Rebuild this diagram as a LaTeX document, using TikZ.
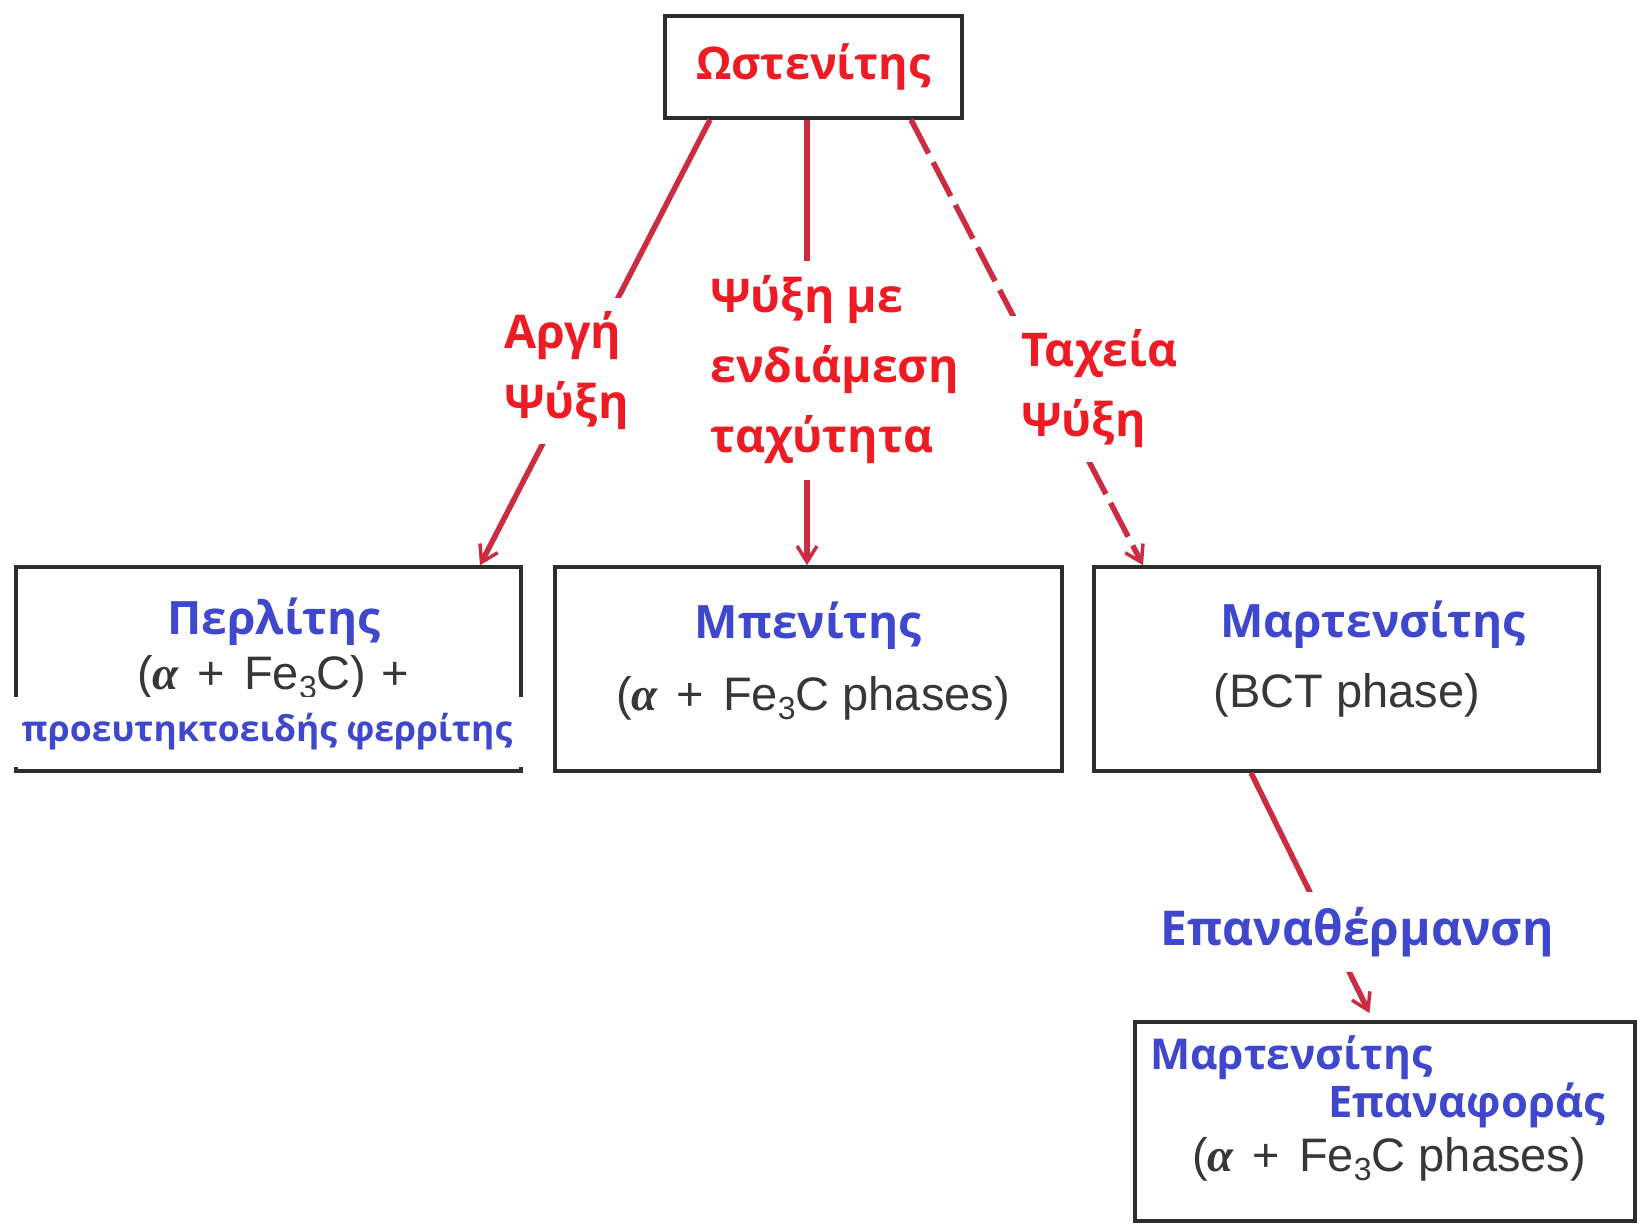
\documentclass[tikz,border=0pt]{standalone}
\usepackage{fontspec}
\usetikzlibrary{arrows.meta}
\setmainfont{Open Sans}
\newfontfamily\phasefont{Liberation Sans}
\newfontfamily\alphafont{Liberation Serif}
\definecolor{txtred}{RGB}{237,28,36}
\definecolor{linered}{RGB}{204,44,66}
\definecolor{txtblue}{RGB}{63,72,204}
\definecolor{boxgray}{RGB}{45,45,45}
\definecolor{phasegray}{RGB}{55,55,55}
\newcommand{\alf}{{\alphafont\bfseries\itshape α}}
\newcommand{\pls}{\hspace{19pt}+\hspace{19pt}}
\newcommand{\lowthree}{\raisebox{-0.2em}{\fontsize{32}{32}\selectfont 3}}
\begin{document}
\begin{tikzpicture}[x=1pt,y=-1pt,
    box/.style={draw=boxgray,line width=3.5pt},
    redname/.style={text=txtred,font=\bfseries\fontsize{45}{50}\selectfont},
    bluename/.style={text=txtblue,font=\bfseries\fontsize{46}{50}\selectfont,inner sep=0pt},
    phase/.style={text=phasegray,font=\phasefont\fontsize{47}{50}\selectfont,inner sep=0pt},
    redlbl/.style={text=txtred,fill=white,align=left,anchor=west,inner xsep=12pt,inner ysep=0pt,
      font=\bfseries\fontsize{46.5}{70}\selectfont},
    cool/.style={draw=linered,line width=5.5pt,
      -{Straight Barb[length=16pt,width=20pt,line width=3.5pt]}}]
  \useasboundingbox (0,0) rectangle (1637,1223);
  % boxes
  \node [box,redname,minimum width=297pt,minimum height=102pt] (aus) at (813.5,67) {Ωστενίτης};
  \node [box,minimum width=505pt,minimum height=204pt] (perl) at (268.5,669) {};
  \node [box,minimum width=507pt,minimum height=204pt] (bain) at (808.5,669) {};
  \node [box,minimum width=505pt,minimum height=204pt] (mart) at (1346.5,669) {};
  \node [box,minimum width=500pt,minimum height=199pt] (temp) at (1385,1121.5) {};
  % box texts
  \node [bluename] (perlname) at (274,622) {Περλίτης};
  \node [phase] (perlphase) at (273,677) {(\alf\pls Fe\lowthree C)\hspace{15pt}+};
  \node [bluename,fill=white,font=\bfseries\fontsize{35.5}{40}\selectfont,
    minimum width=514pt,minimum height=70pt] (ferr) at (267,732) {προευτηκτοειδής φερρίτης};
  \node [bluename] (bainname) at (808,626) {Μπενίτης};
  \node [phase] (bainphase) at (813,698) {(\alf\pls Fe\lowthree C phases)};
  \node [bluename] (martname) at (1373,625) {Μαρτενσίτης};
  \node [phase] (martphase) at (1347,695) {(BCT phase)};
  \node [bluename,anchor=west,font=\bfseries\fontsize{42.5}{46}\selectfont] (tempname) at (1150,1058) {Μαρτενσίτης};
  \node [bluename,anchor=east,font=\bfseries\fontsize{43.5}{46}\selectfont] (tempname2) at (1605,1105) {Επαναφοράς};
  \node [phase] (tempphase) at (1389,1159) {(\alf\pls Fe\lowthree C phases)};
  % cooling paths
  \draw [cool] ([xshift=-103.5pt]aus.south) -- ([xshift=211.5pt]perl.north);
  \draw [cool] ([xshift=-6.5pt]aus.south) -- ([xshift=-1.5pt]bain.north);
  \draw [cool,dash pattern=on 38pt off 10pt] ([xshift=97.5pt]aus.south) -- ([xshift=-203.5pt]mart.north);
  \draw [cool,shorten >=8pt] ([xshift=-95.5pt]mart.south) -- ([xshift=-12pt]temp.north);
  % labels
  \node [redlbl,minimum height=146pt] (slow) at (492,371) {Αργή\\Ψύξη};
  \node [redlbl,minimum height=219pt] (medium) at (698,370) {Ψύξη με\\ενδιάμεση\\ταχύτητα};
  \node [redlbl,minimum height=146pt] (fast) at (1009,389) {Ταχεία\\Ψύξη};
  \node [bluename,fill=white,inner xsep=6pt,minimum height=80pt,font=\bfseries\fontsize{48}{50}\selectfont] (reheat) at (1357,932) {Επαναθέρμανση};
\end{tikzpicture}
\end{document}
